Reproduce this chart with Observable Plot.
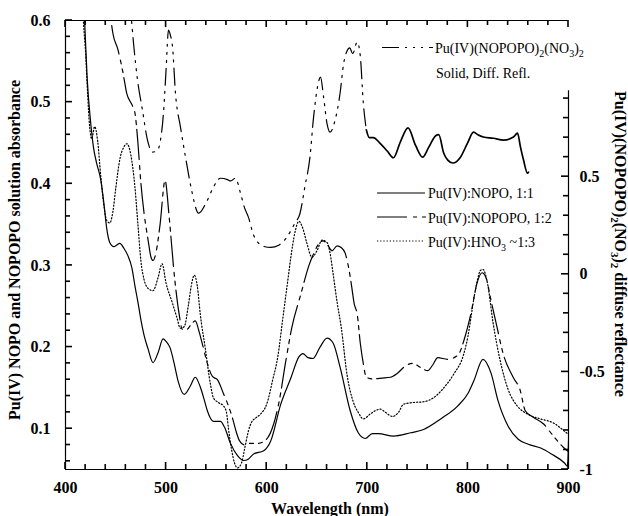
<!DOCTYPE html>
<html><head><meta charset="utf-8">
<script src="https://cdn.jsdelivr.net/npm/d3@7"></script>
<script src="https://cdn.jsdelivr.net/npm/@observablehq/plot@0.6"></script>
<style>body{margin:0;background:#fff}</style>
</head><body><div id="chart"></div>
<script>
// Pu(IV):NOPO 1:1 (left axis, absorbance)
const nopo = [[415,0.70],[419,0.60],[421.5,0.53],[425,0.475],[428,0.443],[431,0.425],[435,0.405],[438,0.378],[441,0.345],[444,0.328],[448,0.323],[451,0.325],[454,0.327],[458,0.321],[462,0.312],[466,0.297],[469,0.275],[472,0.255],[475,0.233],[478,0.215],[482,0.198],[487,0.181],[492,0.193],[497,0.21],[500,0.207],[504,0.199],[508,0.18],[512,0.158],[518,0.142],[524,0.152],[529,0.163],[534,0.151],[538,0.135],[541,0.122],[547,0.109],[554,0.109],[558,0.102],[564,0.082],[571,0.067],[577,0.061],[582,0.063],[587,0.069],[597,0.073],[604,0.085],[614,0.13],[624,0.162],[632,0.188],[636,0.192],[641,0.187],[646,0.186],[653,0.20],[660,0.211],[666,0.205],[673,0.175],[683,0.122],[691,0.095],[698,0.088],[705,0.094],[711,0.094],[726,0.091],[743,0.095],[756,0.099],[773,0.112],[790,0.128],[800,0.143],[806,0.159],[815,0.185],[823,0.168],[830,0.134],[840,0.103],[850,0.087],[860,0.081],[873,0.076],[883,0.069],[896,0.058],[899,0.054],[900,0.085]];
// Pu(IV):NOPOPO 1:2 (left axis)
const nopopo = [[441,0.66],[444,0.615],[447,0.585],[452,0.565],[457,0.537],[461,0.51],[466,0.497],[469,0.487],[472,0.45],[475,0.40],[478,0.365],[482,0.332],[485,0.31],[487,0.306],[490,0.316],[494,0.35],[499,0.404],[503,0.36],[508,0.29],[513,0.24],[516,0.222],[521,0.222],[525,0.228],[529,0.232],[533,0.218],[536,0.204],[541,0.18],[546,0.164],[551,0.16],[557,0.143],[561,0.131],[566,0.113],[570,0.095],[573,0.085],[578,0.08],[582,0.082],[591,0.082],[599,0.086],[607,0.106],[612,0.131],[619,0.183],[625,0.224],[634,0.265],[642,0.30],[648,0.318],[652,0.327],[656,0.33],[660,0.326],[665,0.318],[670,0.324],[674,0.322],[678,0.315],[681,0.30],[684,0.278],[687,0.253],[690,0.24],[693,0.205],[696,0.18],[699,0.163],[705,0.161],[715,0.162],[723,0.163],[730,0.168],[738,0.177],[745,0.18],[753,0.175],[760,0.171],[765,0.178],[770,0.187],[780,0.185],[790,0.19],[797,0.212],[803,0.241],[809,0.278],[814,0.291],[818,0.285],[823,0.257],[829,0.224],[835,0.192],[845,0.163],[852,0.147],[857,0.122],[865,0.114],[875,0.106],[885,0.091],[895,0.077],[900,0.072]];
// Pu(IV):HNO3 ~1:3 (left axis)
const hno3 = [[414,0.70],[418,0.595],[420,0.56],[422,0.51],[424,0.47],[426,0.455],[429,0.47],[432,0.452],[435,0.41],[438,0.375],[441,0.355],[444,0.352],[447,0.365],[450,0.395],[454,0.43],[458,0.445],[461,0.449],[465,0.435],[469,0.396],[472,0.35],[475,0.305],[478,0.283],[482,0.272],[487,0.269],[492,0.285],[496,0.302],[500,0.278],[506,0.255],[511,0.235],[514,0.223],[518,0.225],[522,0.25],[525,0.275],[528,0.288],[531,0.275],[534,0.24],[539,0.198],[544,0.155],[547,0.138],[552,0.132],[557,0.128],[560,0.12],[562,0.10],[565,0.075],[568,0.058],[571,0.052],[575,0.058],[578,0.075],[582,0.098],[585,0.108],[589,0.113],[594,0.118],[600,0.13],[606,0.16],[611,0.188],[616,0.235],[621,0.282],[624,0.31],[628,0.34],[632,0.354],[636,0.345],[640,0.327],[645,0.31],[650,0.318],[655,0.331],[660,0.328],[663,0.315],[666,0.29],[670,0.255],[674,0.225],[680,0.165],[686,0.133],[691,0.12],[696,0.112],[703,0.118],[708,0.122],[713,0.124],[718,0.12],[725,0.115],[731,0.12],[736,0.13],[745,0.132],[756,0.133],[766,0.138],[776,0.15],[786,0.167],[796,0.192],[800,0.213],[803,0.236],[806,0.26],[809.5,0.282],[812.5,0.294],[815,0.295],[819.5,0.278],[825,0.23],[832,0.184],[840,0.148],[849,0.128],[859,0.118],[872,0.112],[885,0.107],[895,0.098],[900,0.093]];
// Pu(IV)(NOPOPO)2(NO3)2 solid, diffuse reflectance (right axis units)
const refl = [[460,1.45],[465.6,1.30],[467.6,1.185],[471.6,0.995],[476.5,0.841],[481.5,0.687],[486.5,0.626],[491.5,0.636],[494.4,0.687],[497.4,0.826],[500,1.05],[502.4,1.251],[504.5,1.22],[506.4,1.164],[509.3,0.928],[514.3,0.754],[519.3,0.60],[525,0.44],[532.3,0.313],[541,0.379],[547,0.446],[554,0.492],[561,0.485],[564,0.478],[569,0.492],[574,0.415],[578,0.34],[582,0.29],[587,0.20],[597,0.143],[604,0.138],[612,0.149],[620,0.19],[628,0.262],[633,0.31],[638,0.45],[643,0.60],[646.5,0.80],[650.5,0.96],[653.5,1.01],[656.5,0.91],[660,0.77],[663,0.728],[668,0.79],[673,0.93],[676.5,1.08],[679.5,1.14],[682.5,1.16],[685.5,1.13],[690,1.19],[693,1.12],[696,0.88],[699,0.74],[702,0.70],[706,0.70],[712,0.675],[720,0.63],[726,0.597],[733,0.68],[740.5,0.75],[748,0.66],[755,0.60],[761,0.65],[768,0.71],[771,0.715],[776,0.62],[780,0.585],[785,0.57],[792.6,0.60],[799.6,0.672],[805.6,0.728],[810,0.715],[815.5,0.703],[825.4,0.697],[835.4,0.687],[845.3,0.703],[849.3,0.723],[852.3,0.651],[855.3,0.585],[859.2,0.518],[860.2,0.523]];

const xMajor = [400,500,600,700,800,900];
const xMinor = [420,440,460,480,520,540,560,580,620,640,660,680,720,740,760,780,820,840,860,880];
const yLeftMajor = [0.1,0.2,0.3,0.4,0.5,0.6];
const yLeftMinor = [0.06,0.08,0.12,0.14,0.16,0.18,0.22,0.24,0.26,0.28,0.32,0.34,0.36,0.38,0.42,0.44,0.46,0.48,0.52,0.54,0.56,0.58];
const yRightMajor = [-1,-0.5,0,0.5];
const yRightMinor = [-0.9,-0.8,-0.7,-0.6,-0.4,-0.3,-0.2,-0.1,0.1,0.2,0.3,0.4,0.6,0.7,0.8,0.9];

const X0 = 400, X1 = 900, L0 = 0.05, L1 = 0.6, R0 = -1, R1 = 1.3, rightAxisTop = 0.94;
const toLeft = r => L0 + (r - R0) * (L1 - L0) / (R1 - R0);
const toRight = v => Math.round((R0 + (v - L0) * (R1 - R0) / (L1 - L0)) * 10) / 10;

const W = 628, H = 516, ML = 65, MR = 60, MT = 20, MB = 47;

const rows = a => a.map(([w, v]) => ({w, v}));
const reflRows = refl.map(([w, r]) => ({w, v: toLeft(r)}));
const reflDash = reflRows.filter(d => d.w <= 699);
const reflNoisy = reflRows.filter(d => d.w >= 699);

const PAT_NOPOPO = "30,6,4,5,4,5";
const PAT_HNO3 = "1.2,2";
const PAT_REFL = "17,6,2,6,2,6,2,6";
const FONT = "'Liberation Serif','Times New Roman',serif";

const lineOpts = (extra) => Object.assign({x: "w", y: "v", stroke: "black", strokeWidth: 1.2, curve: "monotone-x", clip: true}, extra);

const plot = Plot.plot({
  width: W, height: H,
  marginLeft: ML, marginRight: MR, marginTop: MT, marginBottom: MB,
  x: {domain: [X0, X1]},
  y: {domain: [L0, L1]},
  style: {fontFamily: FONT, fontSize: "16px", color: "black", background: "white", overflow: "visible"},
  marks: [
    Plot.ruleY([L1], {stroke: "black", strokeWidth: 1.2}),
    Plot.ruleY([L0], {stroke: "black", strokeWidth: 1.2}),
    Plot.ruleX([X0], {stroke: "black", strokeWidth: 1.2}),
    Plot.ruleX([X1], {y1: L0, y2: toLeft(rightAxisTop), stroke: "black", strokeWidth: 1.2}),
    Plot.axisX({anchor: "bottom", ticks: xMajor, tickSize: 0, tickPadding: 12, tickFormat: d => String(d), fontSize: 16, fontWeight: "bold", label: null}),
    Plot.axisY({anchor: "left", ticks: yLeftMajor, tickSize: 0, tickPadding: 15, tickFormat: d => d.toFixed(1), fontSize: 16, fontWeight: "bold", label: null}),
    Plot.axisY({anchor: "right", ticks: yRightMajor.map(toLeft), tickSize: 0, tickPadding: 11, tickFormat: v => String(toRight(v)), fontSize: 16, fontWeight: "bold", label: null}),
    Plot.line(rows(nopo), lineOpts({})),
    Plot.line(rows(nopopo), lineOpts({strokeDasharray: PAT_NOPOPO})),
    Plot.line(rows(hno3), lineOpts({strokeDasharray: PAT_HNO3})),
    Plot.line(reflDash, lineOpts({strokeDasharray: PAT_REFL})),
    Plot.line(reflNoisy, lineOpts({strokeWidth: 1.7}))
  ]
});
document.getElementById("chart").appendChild(plot);

const svg = d3.select(plot);
const sx = plot.scale("x"), sy = plot.scale("y");

// inward tick marks (thin filled rects), positioned through Plot's own scales
const tg = svg.append("g").attr("fill", "black");
const yBot = sy.apply(L0), yTop = sy.apply(L1), xL = sx.apply(X0), xR = sx.apply(X1);
const TW = 1.6;
function xt(vals, len) {
  for (const v of vals) {
    const x = sx.apply(v);
    tg.append("rect").attr("x", x - TW / 2).attr("width", TW).attr("y", yBot - len).attr("height", len);
    tg.append("rect").attr("x", x - TW / 2).attr("width", TW).attr("y", yTop).attr("height", len);
  }
}
function yt(vals, len, x0, dir) {
  for (const v of vals) {
    const y = sy.apply(v);
    tg.append("rect").attr("y", y - TW / 2).attr("height", TW).attr("x", dir > 0 ? x0 : x0 - len).attr("width", len);
  }
}
xt(xMajor, 7); xt(xMinor, 5);
yt(yLeftMajor, 7, xL, 1); yt(yLeftMinor, 5, xL, 1);
yt(yRightMajor.map(toLeft), 7, xR, -1); yt(yRightMinor.map(toLeft), 5, xR, -1);

function rich(sel, parts, subSize, shift) {
  let cur = 0;
  for (const [t, sub] of parts) {
    const target = sub ? shift : 0;
    const ts = sel.append("tspan").attr("dy", target - cur).text(t);
    if (sub) ts.attr("font-size", subSize);
    cur = target;
  }
}
const g = svg.append("g").attr("font-family", FONT).attr("fill", "black");

g.append("text").attr("transform", "translate(19.5,250) rotate(-90)").attr("text-anchor", "middle")
  .attr("font-size", 16).attr("font-weight", "bold").text("Pu(IV) NOPO and NOPOPO solution absorbance");
g.append("text").attr("x", 330).attr("y", 514).attr("text-anchor", "middle")
  .attr("font-size", 16).attr("font-weight", "bold").text("Wavelength (nm)");
const rt = g.append("text").attr("transform", "translate(615,91) rotate(90)").attr("text-anchor", "start")
  .attr("font-size", 16).attr("font-weight", "bold");
rich(rt, [["Pu(IV)(NOPOPO)"], ["2", true], ["(NO"], ["3", true], [")"], ["2", true], [" diffuse reflectance"]], 11, 4);

const leg = g.append("g").attr("font-size", 14).attr("text-anchor", "start");
function sample(x1, x2, y, dash, w) {
  const l = leg.append("line").attr("x1", x1).attr("x2", x2).attr("y1", y).attr("y2", y)
    .attr("stroke", "black").attr("stroke-width", w || 1.2);
  if (dash) l.attr("stroke-dasharray", dash);
}
sample(382, 433, 47.5, PAT_REFL);
const t1 = leg.append("text").attr("text-anchor", "start").attr("x", 435).attr("y", 53);
rich(t1, [["Pu(IV)(NOPOPO)"], ["2", true], ["(NO"], ["3", true], [")"], ["2", true]], 10, 4);
leg.append("text").attr("text-anchor", "start").attr("x", 436).attr("y", 78).text("Solid, Diff. Refl.");

sample(377, 425, 193, null);
leg.append("text").attr("text-anchor", "start").attr("x", 428).attr("y", 198).text("Pu(IV):NOPO, 1:1");
sample(377, 426, 217, PAT_NOPOPO);
leg.append("text").attr("text-anchor", "start").attr("x", 428).attr("y", 223).text("Pu(IV):NOPOPO, 1:2");
sample(377, 425, 241, PAT_HNO3);
const t4 = leg.append("text").attr("text-anchor", "start").attr("x", 428).attr("y", 247);
rich(t4, [["Pu(IV):HNO"], ["3", true], [" ~1:3"]], 10, 4);
</script>
</body></html>
